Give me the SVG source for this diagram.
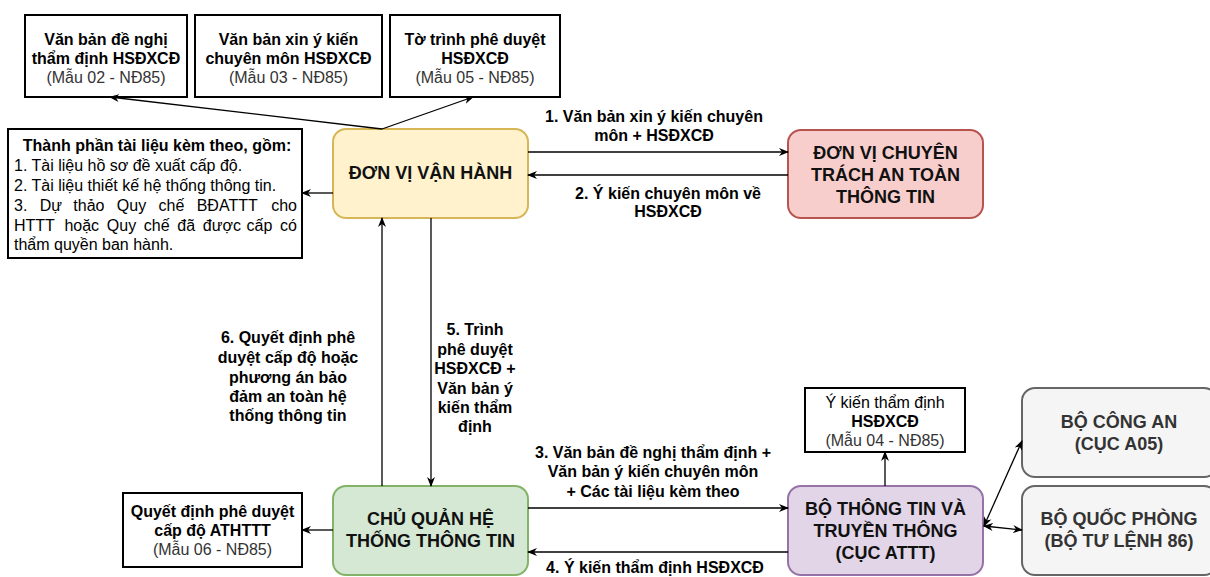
<svg xmlns="http://www.w3.org/2000/svg" width="1210" height="577" viewBox="0 0 1210 577">
<defs>
<marker id="ah" viewBox="0 0 10 10" refX="9" refY="5" markerWidth="10" markerHeight="10" orient="auto-start-reverse" markerUnits="userSpaceOnUse">
<path d="M0,1 L10,5 L0,9 L3,5 Z" fill="#000"/>
</marker>
</defs>
<style>
text{font-family:"Liberation Sans",Arial,sans-serif;fill:#000}
.b{font-weight:bold}
.c{text-anchor:middle}
.g{fill:#333}
.doc{fill:#fff;stroke:#000;stroke-width:2}
.n{font-size:18px;font-weight:bold;text-anchor:middle;fill:#111}
.t{font-size:16px}
.e{fill:none;stroke:#000;stroke-width:1.3}
</style>
<rect width="1210" height="577" fill="#fff"/>

<g id="doc02">
<rect class="doc" x="25" y="15" width="162" height="82"/>
<text class="t b c" x="106" y="45">Văn bản đề nghị</text>
<text class="t b c" x="106" y="64">thẩm định HSĐXCĐ</text>
<text class="t c g" x="106" y="83">(Mẫu 02 - NĐ85)</text>
</g>
<g id="doc03">
<rect class="doc" x="195" y="15" width="187" height="82"/>
<text class="t b c" x="288.5" y="45">Văn bản xin ý kiến</text>
<text class="t b c" x="288.5" y="64">chuyên môn HSĐXCĐ</text>
<text class="t c g" x="288.5" y="83">(Mẫu 03 - NĐ85)</text>
</g>
<g id="doc05">
<rect class="doc" x="390" y="15" width="170" height="82"/>
<text class="t b c" x="475" y="45">Tờ trình phê duyệt</text>
<text class="t b c" x="475" y="64">HSĐXCĐ</text>
<text class="t c g" x="475" y="83">(Mẫu 05 - NĐ85)</text>
</g>

<g id="attach">
<rect class="doc" x="8" y="129" width="294" height="129"/>
<text class="t b c" x="157" y="151">Thành phần tài liệu kèm theo, gồm:</text>
<text class="t" x="14" y="171">1. Tài liệu hồ sơ đề xuất cấp độ.</text>
<text class="t" x="14" y="191">2. Tài liệu thiết kế hệ thống thông tin.</text>
<text class="t" y="211"><tspan x="14">3.</tspan><tspan x="39.7">Dự</tspan><tspan x="73.3">thảo</tspan><tspan x="116.8">Quy</tspan><tspan x="158.5">chế</tspan><tspan x="196.7">BĐATTT</tspan><tspan x="297" text-anchor="end">cho</tspan></text>
<text class="t" y="231"><tspan x="14">HTTT</tspan><tspan x="64.4">hoặc</tspan><tspan x="106.8">Quy</tspan><tspan x="143.8">chế</tspan><tspan x="177.3">đã</tspan><tspan x="202.8">được</tspan><tspan x="246.6">cấp</tspan><tspan x="297" text-anchor="end">có</tspan></text>
<text class="t" x="14" y="250">thẩm quyền ban hành.</text>
</g>

<g id="dvvh">
<rect x="333" y="129" width="195" height="89" rx="13" fill="#fff2cc" stroke="#d6b656" stroke-width="2"/>
<text class="n" x="430.5" y="179">ĐƠN VỊ VẬN HÀNH</text>
</g>

<g id="dvct">
<rect x="788" y="130" width="195" height="88" rx="13" fill="#f8cecc" stroke="#b85450" stroke-width="2"/>
<text class="n" x="885.5" y="159">ĐƠN VỊ CHUYÊN</text>
<text class="n" x="885.5" y="181">TRÁCH AN TOÀN</text>
<text class="n" x="885.5" y="203">THÔNG TIN</text>
</g>

<g id="cqht">
<rect x="333" y="486" width="195" height="89" rx="13" fill="#d5e8d4" stroke="#82b366" stroke-width="2"/>
<text class="n" x="430.5" y="525">CHỦ QUẢN HỆ</text>
<text class="n" x="430.5" y="547">THỐNG THÔNG TIN</text>
</g>

<g id="qd06">
<rect class="doc" x="123" y="493" width="179" height="74"/>
<text class="t b c" x="212.5" y="517">Quyết định phê duyệt</text>
<text class="t b c" x="212.5" y="536">cấp độ ATHTTT</text>
<text class="t c g" x="212.5" y="555">(Mẫu 06 - NĐ85)</text>
</g>

<g id="btttt">
<rect x="788" y="486" width="195" height="89" rx="13" fill="#e1d5e7" stroke="#9673a6" stroke-width="2"/>
<text class="n" x="885.5" y="515">BỘ THÔNG TIN VÀ</text>
<text class="n" x="885.5" y="537">TRUYỀN THÔNG</text>
<text class="n" x="885.5" y="559">(CỤC ATTT)</text>
</g>

<g id="ykien04">
<rect class="doc" x="805" y="388" width="160" height="64"/>
<text class="t c" x="885" y="408">Ý kiến thẩm định</text>
<text class="t b c" x="885" y="427">HSĐXCĐ</text>
<text class="t c g" x="885" y="446">(Mẫu 04 - NĐ85)</text>
</g>

<g id="bca">
<rect x="1022" y="388" width="195" height="89" rx="13" fill="#f5f5f5" stroke="#666" stroke-width="2"/>
<text class="n" x="1119" y="428" style="fill:#333">BỘ CÔNG AN</text>
<text class="n" x="1119" y="450" style="fill:#333">(CỤC A05)</text>
</g>

<g id="bqp">
<rect x="1022" y="486" width="195" height="89" rx="13" fill="#f5f5f5" stroke="#666" stroke-width="2"/>
<text class="n" x="1119" y="525" style="fill:#333">BỘ QUỐC PHÒNG</text>
<text class="n" x="1119" y="547" style="fill:#333">(BỘ TƯ LỆNH 86)</text>
</g>

<g id="connectors">
<path class="e" d="M382,129 L110,97" marker-end="url(#ah)"/>
<path class="e" d="M382,129 L473,97" marker-end="url(#ah)"/>
<path class="e" d="M333,193 L302,193" marker-end="url(#ah)"/>
<path class="e" d="M528,152 L788,152" marker-end="url(#ah)"/>
<path class="e" d="M788,175 L528,175" marker-end="url(#ah)"/>
<path class="e" d="M382,486 L382,218" marker-end="url(#ah)"/>
<path class="e" d="M431,218 L431,486" marker-end="url(#ah)"/>
<path class="e" d="M333,530 L302,530" marker-end="url(#ah)"/>
<path class="e" d="M528,508 L788,508" marker-end="url(#ah)"/>
<path class="e" d="M788,552 L528,552" marker-end="url(#ah)"/>
<path class="e" d="M885,486 L885,452" marker-end="url(#ah)"/>
<path class="e" d="M984,526 L1022,441" marker-start="url(#ah)" marker-end="url(#ah)"/>
<path class="e" d="M984,526 L1022,530" marker-start="url(#ah)" marker-end="url(#ah)"/>

<text class="t b c" x="654" y="122">1. Văn bản xin ý kiến chuyên</text>
<text class="t b c" x="654" y="141">môn + HSĐXCĐ</text>
<text class="t b c" x="668" y="199">2. Ý kiến chuyên môn về</text>
<text class="t b c" x="668" y="217">HSĐXCĐ</text>
<text class="t b c" x="288" y="343">6. Quyết định phê</text>
<text class="t b c" x="288" y="363">duyệt cấp độ hoặc</text>
<text class="t b c" x="288" y="383">phương án bảo</text>
<text class="t b c" x="288" y="402">đảm an toàn hệ</text>
<text class="t b c" x="288" y="421">thống thông tin</text>
<text class="t b c" x="475" y="335">5. Trình</text>
<text class="t b c" x="475" y="355">phê duyệt</text>
<text class="t b c" x="475" y="374">HSĐXCĐ +</text>
<text class="t b c" x="475" y="394">Văn bản ý</text>
<text class="t b c" x="475" y="413">kiến thẩm</text>
<text class="t b c" x="475" y="432">định</text>
<text class="t b c" x="653" y="458">3. Văn bản đề nghị thẩm định +</text>
<text class="t b c" x="653" y="477">Văn bản ý kiến chuyên môn</text>
<text class="t b c" x="653" y="497">+ Các tài liệu kèm theo</text>
<text class="t b c" x="655" y="573">4. Ý kiến thẩm định HSĐXCĐ</text>
</g>
</svg>
